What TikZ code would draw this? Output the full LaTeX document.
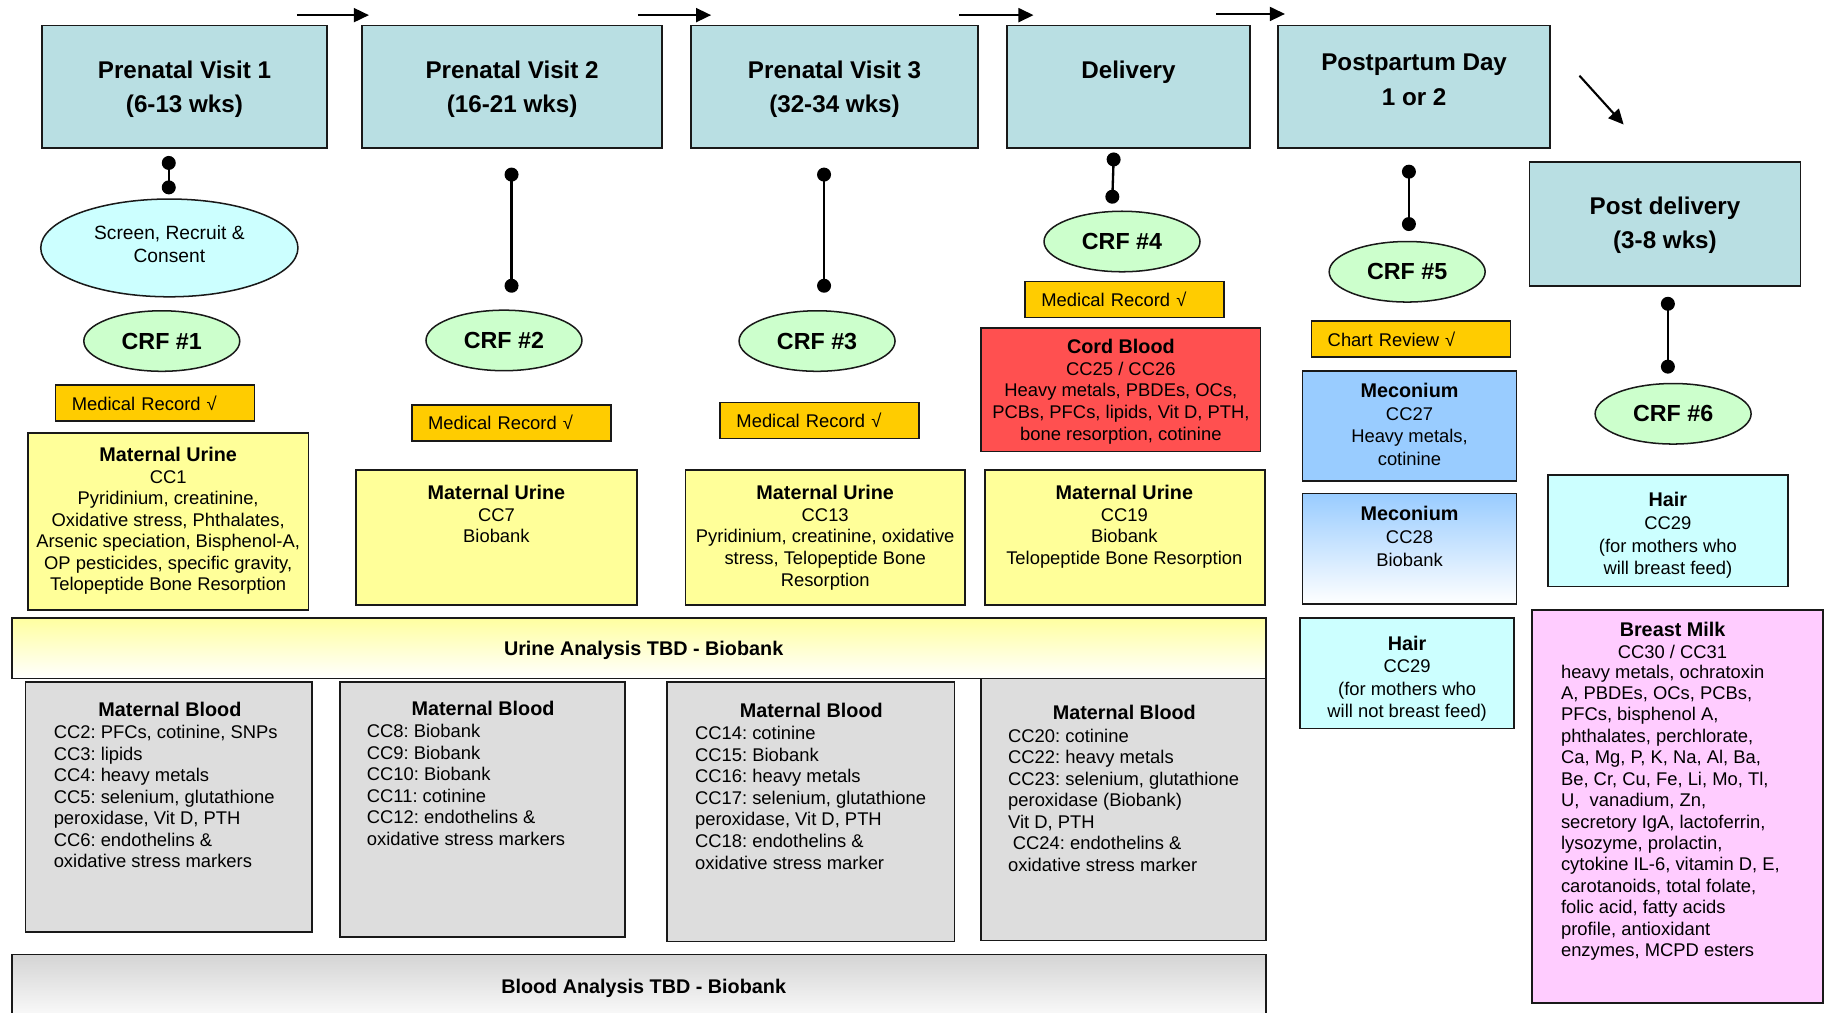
\documentclass[tikz,border=0pt]{standalone}
\usepackage{fontspec}
\setmainfont{Liberation Sans}
\usetikzlibrary{arrows.meta,shapes.geometric,fit,calc}

\definecolor{visitfill}{RGB}{185,223,227}
\definecolor{screenfill}{RGB}{204,255,255}
\definecolor{crffill}{RGB}{204,255,204}
\definecolor{recordfill}{RGB}{255,204,0}
\definecolor{cordfill}{RGB}{255,80,80}
\definecolor{urinefill}{RGB}{255,255,153}
\definecolor{bandyellow}{RGB}{255,255,160}
\definecolor{bloodfill}{RGB}{221,221,221}
\definecolor{bandgray}{RGB}{212,212,212}
\definecolor{meconfill}{RGB}{153,204,255}
\definecolor{hairfill}{RGB}{204,255,255}
\definecolor{milkfill}{RGB}{255,204,255}
\definecolor{edge}{RGB}{25,25,25}

\newcommand\boxtitle[1]{{\fontsize{17}{18.5}\selectfont\bfseries #1}}
\frenchspacing

\begin{document}
\begin{tikzpicture}[x=1pt,y=-1pt,
  frame/.style={draw=edge, line width=1.5pt, inner sep=0pt},
  visit/.style={frame, fill=visitfill},
  visittext/.style={font=\fontsize{20.8}{29}\selectfont\bfseries, align=center, inner sep=0pt, anchor=north},
  oval/.style={ellipse, draw=edge, line width=1.3pt, inner sep=0pt},
  crf/.style={oval, fill=crffill, minimum width=134pt, minimum height=52pt, font=\fontsize{20}{24}\selectfont\bfseries},
  screen/.style={oval, fill=screenfill, minimum width=221pt, minimum height=84pt},
  screentext/.style={inner sep=0pt, anchor=north, align=center, font=\fontsize{16.5}{20}\selectfont},
  record/.style={frame, fill=recordfill, anchor=north west, minimum height=31pt, text width=143pt, inner xsep=14pt, align=left, font=\fontsize{15.8}{18.5}\selectfont},
  sample/.style={inner sep=0pt, anchor=north, align=center, font=\fontsize{15.8}{18.5}\selectfont},
  widesample/.style={sample, font=\fontsize{15.8}{19.4}\selectfont},
  listtext/.style={inner sep=0pt, anchor=north west, align=left, font=\fontsize{15.8}{18.5}\selectfont},
  bandtext/.style={inner sep=0pt, font=\fontsize{17}{20}\selectfont\bfseries},
  flow/.style={draw=black, line width=1.8pt, -{Triangle[length=13pt,width=12pt]}},
  link/.style={draw=black, line width=2pt, {Circle[length=12pt]}-{Circle[length=12pt]}}
]
\useasboundingbox (0,0) rectangle (1568,870);
\clip (0,0) rectangle (1568,870);

% ---------- timeline arrows ----------
\coordinate (a1s) at (255,13);   \coordinate (a1e) at (317,13);
\coordinate (a2s) at (548,13);   \coordinate (a2e) at (611,13);
\coordinate (a3s) at (824,13);   \coordinate (a3e) at (888,13);
\coordinate (a4s) at (1045,12);  \coordinate (a4e) at (1104,12);
\coordinate (a5s) at (1357,65);  \coordinate (a5e) at (1395,107);
\draw[flow] (a1s) -- (a1e);
\draw[flow] (a2s) -- (a2e);
\draw[flow] (a3s) -- (a3e);
\draw[flow] (a4s) -- (a4e);
\draw[flow] (a5s) -- (a5e);

% ---------- visit boxes ----------
\node[visit, fit={(36,22) (281,127)}] (pv1) {};
\node[visittext] (pv1t) at (158.5,52.3) {Prenatal Visit 1\\(6-13 wks)};
\node[visit, fit={(311,22) (569,127)}] (pv2) {};
\node[visittext] (pv2t) at (440,52.3) {Prenatal Visit 2\\(16-21 wks)};
\node[visit, fit={(594,22) (840,127)}] (pv3) {};
\node[visittext] (pv3t) at (717,52.3) {Prenatal Visit 3\\(32-34 wks)};
\node[visit, fit={(865,22) (1074,127)}] (dlv) {};
\node[visittext] (dlvt) at (969.5,52.3) {Delivery};
\node[visit, fit={(1098,22) (1332,127)}] (ppd) {};
\node[visittext, font=\fontsize{20.8}{30}\selectfont\bfseries] (ppdt) at (1215,46.3) {Postpartum Day\\1 or 2};
\node[visit, fit={(1314,139) (1547,246)}] (pdl) {};
\node[visittext] (pdlt) at (1430.5,169.3) {Post delivery\\(3-8 wks)};

% ---------- visit-to-form links ----------
\coordinate (l1a) at (145,134);    \coordinate (l1b) at (145,167);
\coordinate (l2a) at (439.5,144);  \coordinate (l2b) at (439.5,251.5);
\coordinate (l3a) at (708,144);    \coordinate (l3b) at (708,251.5);
\coordinate (l4a) at (957,131);    \coordinate (l4b) at (955.5,175);
\coordinate (l5a) at (1210.5,141.5); \coordinate (l5b) at (1210.5,198.5);
\coordinate (l6a) at (1433,255);   \coordinate (l6b) at (1433,321);
\draw[link] (l1a) -- (l1b);
\draw[link] (l2a) -- (l2b);
\draw[link] (l3a) -- (l3b);
\draw[link] (l4a) -- (l4b);
\draw[link] (l5a) -- (l5b);
\draw[link] (l6a) -- (l6b);

% ---------- ovals ----------
\node[screen] (scr) at (145.5,213) {};
\node[screentext] (scrt) at (145.5,193.5) {Screen, Recruit \&\\Consent};
\node[crf] (crf1) at (139,293) {CRF \#1};
\node[crf] (crf2) at (433,292.5) {CRF \#2};
\node[crf] (crf3) at (702,293) {CRF \#3};
\node[crf] (crf4) at (964,207.5) {CRF \#4};
\node[crf] (crf5) at (1209,233.5) {CRF \#5};
\node[crf] (crf6) at (1437.5,355.5) {CRF \#6};

% ---------- record checks ----------
\node[record] (mr1) at (47,330) {Medical Record √};
\node[record] (mr2) at (353,347) {Medical Record √};
\node[record] (mr3) at (618,345) {Medical Record √};
\node[record] (mr4) at (880,241) {Medical Record √};
\node[record] (chart) at (1126,275) {Chart Review √};

% ---------- cord blood ----------
\node[frame, fill=cordfill, fit={(843,282) (1083,388)}] (cord) {};
\node[sample, font=\fontsize{15.8}{18.75}\selectfont] (cordt) at (963,291)
  {\boxtitle{Cord Blood}\\CC25 / CC26\\Heavy metals, PBDEs, OCs,\\PCBs, PFCs, lipids, Vit D, PTH,\\bone resorption, cotinine};

% ---------- maternal urine ----------
\node[frame, fill=urinefill, fit={(24,372) (265,524)}] (mu1) {};
\node[sample] (mu1t) at (144.5,384)
  {\boxtitle{Maternal Urine}\\CC1\\Pyridinium, creatinine,\\Oxidative stress, Phthalates,\\Arsenic speciation, Bisphenol-A,\\OP pesticides, specific gravity,\\Telopeptide Bone Resorption};
\node[frame, fill=urinefill, fit={(306,404) (547,520)}] (mu2) {};
\node[sample] (mu2t) at (426.5,417) {\boxtitle{Maternal Urine}\\CC7\\Biobank};
\node[frame, fill=urinefill, fit={(589,404) (829,520)}] (mu3) {};
\node[sample] (mu3t) at (709,417)
  {\boxtitle{Maternal Urine}\\CC13\\Pyridinium, creatinine, oxidative\\stress, Telopeptide Bone\\Resorption};
\node[frame, fill=urinefill, fit={(846,404) (1087,520)}] (mu4) {};
\node[sample] (mu4t) at (966,417)
  {\boxtitle{Maternal Urine}\\CC19\\Biobank\\Telopeptide Bone Resorption};

% ---------- urine analysis band ----------
\node[frame, top color=bandyellow, bottom color=white, fit={(10,531) (1088,583)}] (urine) {};
\node[bandtext] (urinet) at (553,559) {Urine Analysis TBD - Biobank};

% ---------- maternal blood ----------
\node[frame, fill=bloodfill, fit={(22,586) (268,801)}] (mb1) {};
\node[sample] (mb1h) at (146,603) {\boxtitle{Maternal Blood}};
\node[listtext] (mb1t) at (46,623)
  {CC2: PFCs, cotinine, SNPs\\CC3: lipids\\CC4: heavy metals\\CC5: selenium, glutathione\\peroxidase, Vit D, PTH\\CC6: endothelins \&\\oxidative stress markers};
\node[frame, fill=bloodfill, fit={(292,586) (537,805)}] (mb2) {};
\node[sample] (mb2h) at (415,602) {\boxtitle{Maternal Blood}};
\node[listtext] (mb2t) at (315,622)
  {CC8: Biobank\\CC9: Biobank\\CC10: Biobank\\CC11: cotinine\\CC12: endothelins \&\\oxidative stress markers};
\node[frame, fill=bloodfill, fit={(573,586) (820,809)}] (mb3) {};
\node[sample] (mb3h) at (697,604) {\boxtitle{Maternal Blood}};
\node[listtext] (mb3t) at (597,624)
  {CC14: cotinine\\CC15: Biobank\\CC16: heavy metals\\CC17: selenium, glutathione\\peroxidase, Vit D, PTH\\CC18: endothelins \&\\oxidative stress marker};
\node[frame, fill=bloodfill, fit={(843,583) (1088,808)}] (mb4) {};
\node[sample] (mb4h) at (966,606) {\boxtitle{Maternal Blood}};
\node[listtext] (mb4t) at (866,626)
  {CC20: cotinine\\CC22: heavy metals\\CC23: selenium, glutathione\\peroxidase (Biobank)\\Vit D, PTH\\\hspace*{4pt}CC24: endothelins \&\\oxidative stress marker};

% ---------- blood analysis band ----------
\node[frame, top color=bandgray, bottom color=white, fit={(10,820) (1088,880)}] (blood) {};
\node[bandtext] (bloodt) at (553,849) {Blood Analysis TBD - Biobank};

% ---------- newborn and postpartum samples ----------
\node[frame, fill=meconfill, fit={(1119,319) (1303,413)}] (mec1) {};
\node[widesample] (mec1t) at (1211,329) {\boxtitle{Meconium}\\CC27\\Heavy metals,\\cotinine};
\node[frame, top color=meconfill, bottom color=white, fit={(1119,424) (1303,519)}] (mec2) {};
\node[widesample] (mec2t) at (1211,435) {\boxtitle{Meconium}\\CC28\\Biobank};
\node[frame, fill=hairfill, fit={(1117,531) (1301,626)}] (hair1) {};
\node[widesample] (hair1t) at (1209,546) {\boxtitle{Hair}\\CC29\\(for mothers who\\will not breast feed)};
\node[frame, fill=hairfill, fit={(1330,408) (1536,504)}] (hair2) {};
\node[widesample] (hair2t) at (1433,423) {\boxtitle{Hair}\\CC29\\(for mothers who\\will breast feed)};

% ---------- breast milk ----------
\node[frame, fill=milkfill, fit={(1316,524) (1566,862)}] (milk) {};
\node[sample, font=\fontsize{15.8}{19}\selectfont] (milkh) at (1437,534) {\boxtitle{Breast Milk}\\CC30 / CC31};
\node[listtext, font=\fontsize{15.8}{18.4}\selectfont] (milkt) at (1341,571)
  {heavy metals, ochratoxin\\A, PBDEs, OCs, PCBs,\\PFCs, bisphenol A,\\phthalates, perchlorate,\\Ca, Mg, P, K, Na, Al, Ba,\\Be, Cr, Cu, Fe, Li, Mo, Tl,\\U,\ \ vanadium, Zn,\\secretory IgA, lactoferrin,\\lysozyme, prolactin,\\cytokine IL-6, vitamin D, E,\\carotanoids, total folate,\\folic acid, fatty acids\\profile, antioxidant\\enzymes, MCPD esters};

\end{tikzpicture}
\end{document}
